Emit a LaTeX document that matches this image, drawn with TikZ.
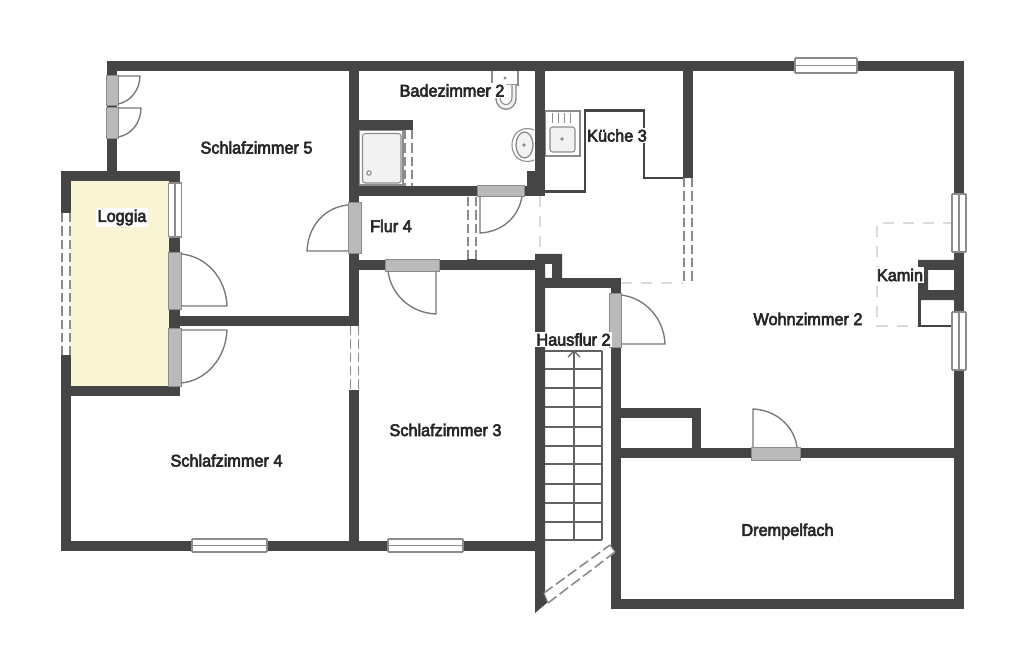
\documentclass[tikz,border=0pt]{standalone}
\usepackage{fontspec}
\setmainfont{Liberation Sans}
\newfontfamily\lblfont[FakeBold=3.6,FakeStretch=0.96]{Liberation Sans}
\definecolor{wallc}{HTML}{454545}
\definecolor{doorc}{HTML}{BABABA}
\definecolor{edgec}{HTML}{8C8C8C}
\definecolor{logc}{HTML}{F9F4D3}
\definecolor{dashc}{HTML}{DADADA}
\tikzset{
  wallfill/.style={fill=wallc,draw=none},
  doorpanel/.style={fill=doorc,draw=edgec,line width=.7pt},
  leaf/.style={draw=edgec!85!black,line width=1pt},
  winbox/.style={fill=white,draw=none},
  winline/.style={draw=edgec,line width=1.3pt},
  dashline/.style={draw=edgec,line width=1.4pt,dash pattern=on 7pt off 3pt},
  ghost/.style={draw=dashc,line width=1pt,dash pattern=on 8pt off 7pt},
  thinln/.style={draw=edgec,line width=.8pt},
  stairline/.style={draw=wallc!85,line width=.9pt},
  roomlabel/.style={font=\lblfont\fontsize{12.7}{15}\selectfont,text=black!85,inner sep=1pt,fill=white},
  plainlabel/.style={roomlabel,fill=none},
}
% horizontal solid window: x1 x2 y-top y-bottom
\newcommand{\hwin}[4]{\fill[winbox] (#1,#3) rectangle (#2,#4);
  \draw[winline] (#1,#3) -- (#2,#3) (#1,{(#3+#4)/2}) -- (#2,{(#3+#4)/2}) (#1,#4) -- (#2,#4);
  \draw[thinln] (#1,#3) -- (#1,#4) (#2,#3) -- (#2,#4);}
\newcommand{\vwin}[4]{\fill[winbox] (#1,#3) rectangle (#2,#4);
  \draw[winline] (#1,#3) -- (#1,#4) ({(#1+#2)/2},#3) -- ({(#1+#2)/2},#4) (#2,#3) -- (#2,#4);
  \draw[thinln] (#1,#3) -- (#2,#3) (#1,#4) -- (#2,#4);}
% vertical dashed window: x1 x2 y1 y2
\newcommand{\vdashwin}[4]{\fill[winbox] (#1,#3) rectangle (#2,#4);
  \draw[dashline] (#1+1,#3) -- (#1+1,#4) (#2-1,#3) -- (#2-1,#4);}
\begin{document}
\begin{tikzpicture}[x=0.75pt,y=-0.75pt]
\useasboundingbox (0,0) rectangle (1024,670);
\fill[white] (0,0) rectangle (1024,670);
% loggia floor
\fill[logc] (71,181) rectangle (169,386);
% ghost lines
\draw[ghost] (621,283) -- (683,283);
\draw[ghost] (540,196) -- (540,255);
\draw[ghost] (954,223) -- (877,223) -- (877,326) -- (918,326);
% main walls
\fill[wallfill] (108,61) rectangle (964,71);
\fill[wallfill] (107,61) rectangle (117,171);
\fill[wallfill] (61,171) rectangle (180,181);
\fill[wallfill] (61,171) rectangle (71,551);
\fill[wallfill] (61,386) rectangle (180,396);
\fill[wallfill] (169,181) rectangle (180,396);
\fill[wallfill] (169,316) rectangle (359,326);
\fill[wallfill] (349,61) rectangle (359,326);
\fill[wallfill] (349,390) rectangle (359,551);
\fill[wallfill] (61,541) rectangle (535,551);
\fill[wallfill] (359,120) rectangle (413,130);
\fill[wallfill] (359,186) rectangle (545,196);
\fill[wallfill] (535,61) rectangle (545,196);
\fill[wallfill] (527,171) rectangle (536,187);
\fill[wallfill] (349,260) rectangle (545,270);
\fill[wallfill] (467,254) rectangle (477,261);
% stair core
\fill[wallfill,even odd rule] (535,254) rectangle (562,288) (545,264) rectangle (552,278);
\fill[wallfill] (535,278) rectangle (621,288);
\fill[wallfill] (535,288) -- (545,288) -- (545,597) -- (548,602) -- (535,613) -- cycle;
\fill[wallfill] (611,278) rectangle (621,609);
\fill[wallfill] (611,599) rectangle (964,609);
\fill[wallfill] (954,61) rectangle (964,609);
\fill[wallfill] (611,448) rectangle (964,458);
\fill[wallfill] (611,408) rectangle (701,418);
\fill[wallfill] (692,408) rectangle (701,458);
\fill[wallfill] (683,61) rectangle (693,178);
% kitchen thin wall
\draw[wallc,line width=2.2pt] (545,191.5) -- (585,191.5) -- (585,110.5) -- (644,110.5) -- (644,178) -- (683,178);
% chimney
\fill[wallfill,even odd rule] (918,260) rectangle (954,300) (928,270) rectangle (954,290);
\draw[wallc,line width=2.2pt] (919.5,300) -- (919.5,326) -- (954,326);
% solid windows
\hwin{795}{857}{58}{73}
\hwin{192}{267}{539}{552}
\hwin{388}{463}{539}{552}
\vwin{168.5}{181.5}{183}{237}
\vwin{952}{966}{194}{252}
\vwin{952}{966}{312}{370}
% dashed windows
\vdashwin{61}{71}{213}{355}
\vdashwin{349.5}{359.5}{326}{390}
\vdashwin{404}{413}{130}{186}
\vdashwin{467}{477}{197}{259}
\vdashwin{683}{693}{178}{283}
% diagonal window
\fill[winbox] (544,593) -- (548,603) -- (615,552) -- (610,545) -- cycle;
\draw[thinln] (544,593) -- (548,603) (615,552) -- (610,545);
\draw[dashline,line width=1.2pt,dash pattern=on 8pt off 3pt] (544,593) -- (610,545) (548,603) -- (615,552);
% door panels
\draw[doorpanel] (106,75) rectangle (118,105);
\draw[doorpanel] (106,107) rectangle (118,138);
\draw[doorpanel] (168,252) rectangle (181,309);
\draw[doorpanel] (168,328) rectangle (181,386);
\draw[doorpanel] (348,202) rectangle (361,253);
\draw[doorpanel] (385,259) rectangle (439,271);
\draw[doorpanel] (477,185) rectangle (524,196);
\draw[doorpanel] (609,293) rectangle (621,347);
\draw[doorpanel] (751,447) rectangle (800,460);
% door leaves
\draw[leaf] (118,76) -- (140,76) .. controls (140,90) and (130,102) .. (118,104);
\draw[leaf] (118,108) -- (141,108) .. controls (141,123) and (131,135) .. (118,137);
\draw[leaf] (181,254) .. controls (206,256) and (226,278) .. (227,306) -- (181,306);
\draw[leaf] (181,330) -- (227,330) .. controls (226,358) and (206,381) .. (181,383);
\draw[leaf] (348,205) .. controls (325,207) and (308,226) .. (307,251) -- (348,251);
\draw[leaf] (436,271) -- (436,314) .. controls (411,313) and (391,295) .. (388,271);
\draw[leaf] (480,196) -- (480,233) .. controls (502,232) and (519,217) .. (522,196);
\draw[leaf] (621,295) .. controls (646,298) and (664,319) .. (665,344) -- (621,344);
\draw[leaf] (753,447) -- (753,409) .. controls (776,410) and (794,426) .. (797,447);
% shower
\draw[thinln,fill=white] (359.5,130.5) rectangle (403,185);
\draw[thinln,fill=black!5,rounded corners=2pt] (362.5,133.5) rectangle (401,183);
\draw[thinln] (369,173) circle (2.2);
% wc
\draw[thinln,fill=white] (492,71) -- (492,85) -- (518,85) -- (518,71);
\fill[edgec] (505,78) circle (1.6);
\draw[edgec,line width=1pt,fill=black!5] (496,85) -- (496,98) .. controls (496,113) and (516,113) .. (516,98) -- (516,85);
\draw[thinln,fill=white] (500,85) -- (500,97) .. controls (500,107) and (512,107) .. (512,97) -- (512,85);
% basin
\draw[thinln] (534,130) .. controls (526,126) and (512,130) .. (512,145) .. controls (512,160) and (526,164) .. (534,160);
\draw[thinln,line width=1pt,fill=black!5] (524.5,145) ellipse (8.5 and 13);
\fill[edgec] (524,145) circle (1.8);
% sink
\draw[thinln,fill=white] (545.5,111) rectangle (580,156);
\draw[thinln,fill=black!5,rounded corners=2pt] (550,127) rectangle (575,152);
\fill[edgec] (562,139) circle (1.8);
\draw[thinln] (552.5,113) -- (552.5,123) (558.5,113) -- (558.5,123) (564.5,113) -- (564.5,123) (570.5,113) -- (570.5,123);
% stairs
\foreach \yy in {351,369,388,407,427,446,464,484,503,522,540}{\draw[stairline] (545,\yy) -- (602,\yy);}
\draw[stairline] (602,351) -- (602,540) (574,351) -- (574,540);
\draw[stairline] (568,357) -- (574,351) -- (580,357);
% labels
\node[plainlabel] (sz5) at (256.5,147.5) {Schlafzimmer 5};
\node[roomlabel] (bad) at (452,90.5) {Badezimmer 2};
\node[roomlabel] (kue) at (617,135.5) {Küche 3};
\node[roomlabel] (log) at (122,217.5) {Loggia};
\node[plainlabel] (flur) at (391,226) {Flur 4};
\node[roomlabel] (kam) at (900,275) {Kamin};
\node[roomlabel] (wz) at (808,319) {Wohnzimmer 2};
\node[roomlabel] (hf) at (573.5,339.5) {Hausflur 2};
\node[plainlabel] (sz3) at (445.5,430) {Schlafzimmer 3};
\node[plainlabel] (sz4) at (226.5,460.5) {Schlafzimmer 4};
\node[plainlabel] (dr) at (787.5,531.5) {Drempelfach};
\end{tikzpicture}
\end{document}
